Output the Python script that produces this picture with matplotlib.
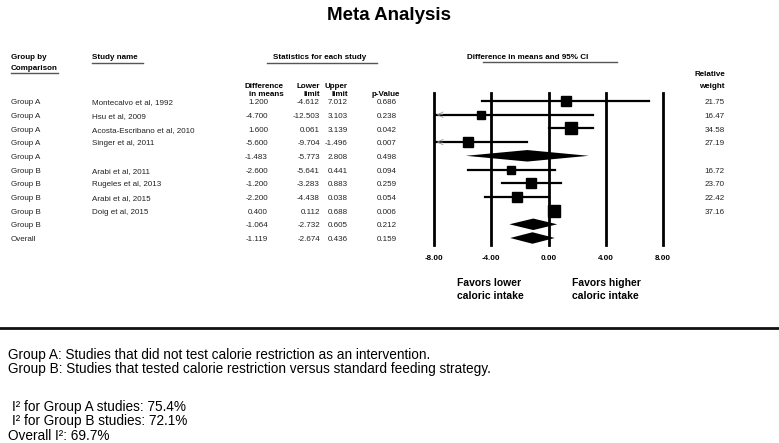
import matplotlib
matplotlib.use('Agg')
import matplotlib.pyplot as plt
import matplotlib.transforms as mtransforms
import numpy as np

plt.rcParams['font.family'] = ['Liberation Sans', 'DejaVu Sans']

# data
groups = ['Group A', 'Group A', 'Group A', 'Group A', 'Group A',
          'Group B', 'Group B', 'Group B', 'Group B', 'Group B', 'Overall']
studies = ['Montecalvo et al, 1992', 'Hsu et al, 2009', 'Acosta-Escribano et al, 2010',
           'Singer et al, 2011', '', 'Arabi et al, 2011', 'Rugeles et al, 2013',
           'Arabi et al, 2015', 'Doig et al, 2015', '', '']
diff = [1.200, -4.700, 1.600, -5.600, -1.483, -2.600, -1.200, -2.200, 0.400, -1.064, -1.119]
lower = [-4.612, -12.503, 0.061, -9.704, -5.773, -5.641, -3.283, -4.438, 0.112, -2.732, -2.674]
upper = [7.012, 3.103, 3.139, -1.496, 2.808, 0.441, 0.883, 0.038, 0.688, 0.605, 0.436]
pvals = [0.686, 0.238, 0.042, 0.007, 0.498, 0.094, 0.259, 0.054, 0.006, 0.212, 0.159]
weights = [21.75, 16.47, 34.58, 27.19, None, 16.72, 23.70, 22.42, 37.16, None, None]
is_summary = [False, False, False, False, True, False, False, False, False, True, True]
xticks = [-8, -4, 0, 4, 8]

W, H = 779, 443
fig = plt.figure(figsize=(W / 100, H / 100), dpi=100)

# background axes in pixel coordinates for text layout
bg = fig.add_axes([0, 0, 1, 1])
bg.set_xlim(0, W)
bg.set_ylim(H, 0)
bg.axis('off')

# forest axes
x0, x1 = 434, 663
ytop, ybot = 93, 245
ax = fig.add_axes([x0 / W, (H - ybot) / H, (x1 - x0) / W, (ybot - ytop) / H])
row0, rowstep = 101, 13.7
ax.set_xlim(-8, 8)
ax.set_ylim((ybot - row0) / rowstep, (ytop - row0) / rowstep)
for s in ax.spines.values():
    s.set_visible(False)
ax.set_yticks([])
ax.set_xticks(xticks)
ax.set_xticklabels(['%.2f' % t for t in xticks], fontsize=5.8, fontweight='bold')
ax.tick_params(axis='x', length=0, pad=7)
ax.patch.set_alpha(0)

for t in xticks:
    ax.axvline(t, color='black', lw=2, clip_on=False, zorder=1)

for i in range(len(diff)):
    lo, hi, d = lower[i], upper[i], diff[i]
    if is_summary[i]:
        h = 0.42
        ax.fill([lo, d, hi, d], [i, i - h, i, i + h], color='black', lw=0, zorder=3)
    else:
        ax.plot([max(lo, -8), min(hi, 8)], [i, i], color='black', lw=1.6, zorder=2)
        if lo < -8:
            ax.annotate('', xy=(-8, i), xytext=(-7.2, i),
                        arrowprops=dict(arrowstyle='->', lw=0.5, color='#888888'))
        ax.plot(d, i, marker='s', color='black', ms=1.4 * np.sqrt(weights[i]), zorder=4)

# table text, y tied to forest rows
tr = mtransforms.blended_transform_factory(bg.transData, ax.transData)
fs = 5.8
tc = '#222222'
tx = dict(transform=tr, fontsize=fs, va='center_baseline', color=tc)
for i in range(len(diff)):
    yy = i + 0.05
    bg.text(11, yy, groups[i], **tx)
    bg.text(92, yy, studies[i], **tx)
    bg.text(268, yy, '%.3f' % diff[i], ha='right', **tx)
    bg.text(320, yy, '%.3f' % lower[i], ha='right', **tx)
    bg.text(348, yy, '%.3f' % upper[i], ha='right', **tx)
    bg.text(397, yy, '%.3f' % pvals[i], ha='right', **tx)
    if weights[i] is not None:
        bg.text(725, yy, '%.2f' % weights[i], ha='right', **tx)

# headers
hb = dict(fontsize=fs, fontweight='bold', va='center_baseline', color='black')
bg.text(11, 56, 'Group by', **hb)
bg.text(11, 67, 'Comparison', **hb)
bg.plot([11, 58], [73, 73], color='#555555', lw=1)
bg.text(92, 56, 'Study name', **hb)
bg.plot([92, 143], [63, 63], color='#555555', lw=1)
bg.text(320, 56, 'Statistics for each study', ha='center', **hb)
bg.plot([267, 377], [63, 63], color='#555555', lw=1)
bg.text(284, 85, 'Difference', ha='right', **hb)
bg.text(284, 93, 'in means', ha='right', **hb)
bg.text(320, 85, 'Lower', ha='right', **hb)
bg.text(320, 93, 'limit', ha='right', **hb)
bg.text(348, 85, 'Upper', ha='right', **hb)
bg.text(348, 93, 'limit', ha='right', **hb)
bg.text(400, 93, 'p-Value', ha='right', **hb)
bg.text(528, 56, 'Difference in means and 95% CI', ha='center', **hb)
bg.plot([483, 617], [62, 62], color='#555555', lw=1)
bg.text(725, 73, 'Relative', ha='right', **hb)
bg.text(725, 85, 'weight', ha='right', **hb)

# favors labels
fb = dict(fontsize=7.5, fontweight='bold', va='center_baseline', color='black')
bg.text(457, 282, 'Favors lower', **fb)
bg.text(457, 295, 'caloric intake', **fb)
bg.text(572, 282, 'Favors higher', **fb)
bg.text(572, 295, 'caloric intake', **fb)

# title
bg.text(389, 15, 'Meta Analysis', ha='center', va='center', fontsize=13.5, fontweight='bold')

# separator
bg.plot([0, W], [328, 328], color='#111111', lw=2)

# footnotes
nf = dict(fontsize=9.8, va='center_baseline', color='black')
bg.text(8, 353, 'Group A: Studies that did not test calorie restriction as an intervention.', **nf)
bg.text(8, 368, 'Group B: Studies that tested calorie restriction versus standard feeding strategy.', **nf)
bg.text(12, 405, 'I\u00b2 for Group A studies: 75.4%', **nf)
bg.text(12, 420, 'I\u00b2 for Group B studies: 72.1%', **nf)
bg.text(8, 434, 'Overall I\u00b2: 69.7%', **nf)

fig.savefig('out.png', dpi=100)
